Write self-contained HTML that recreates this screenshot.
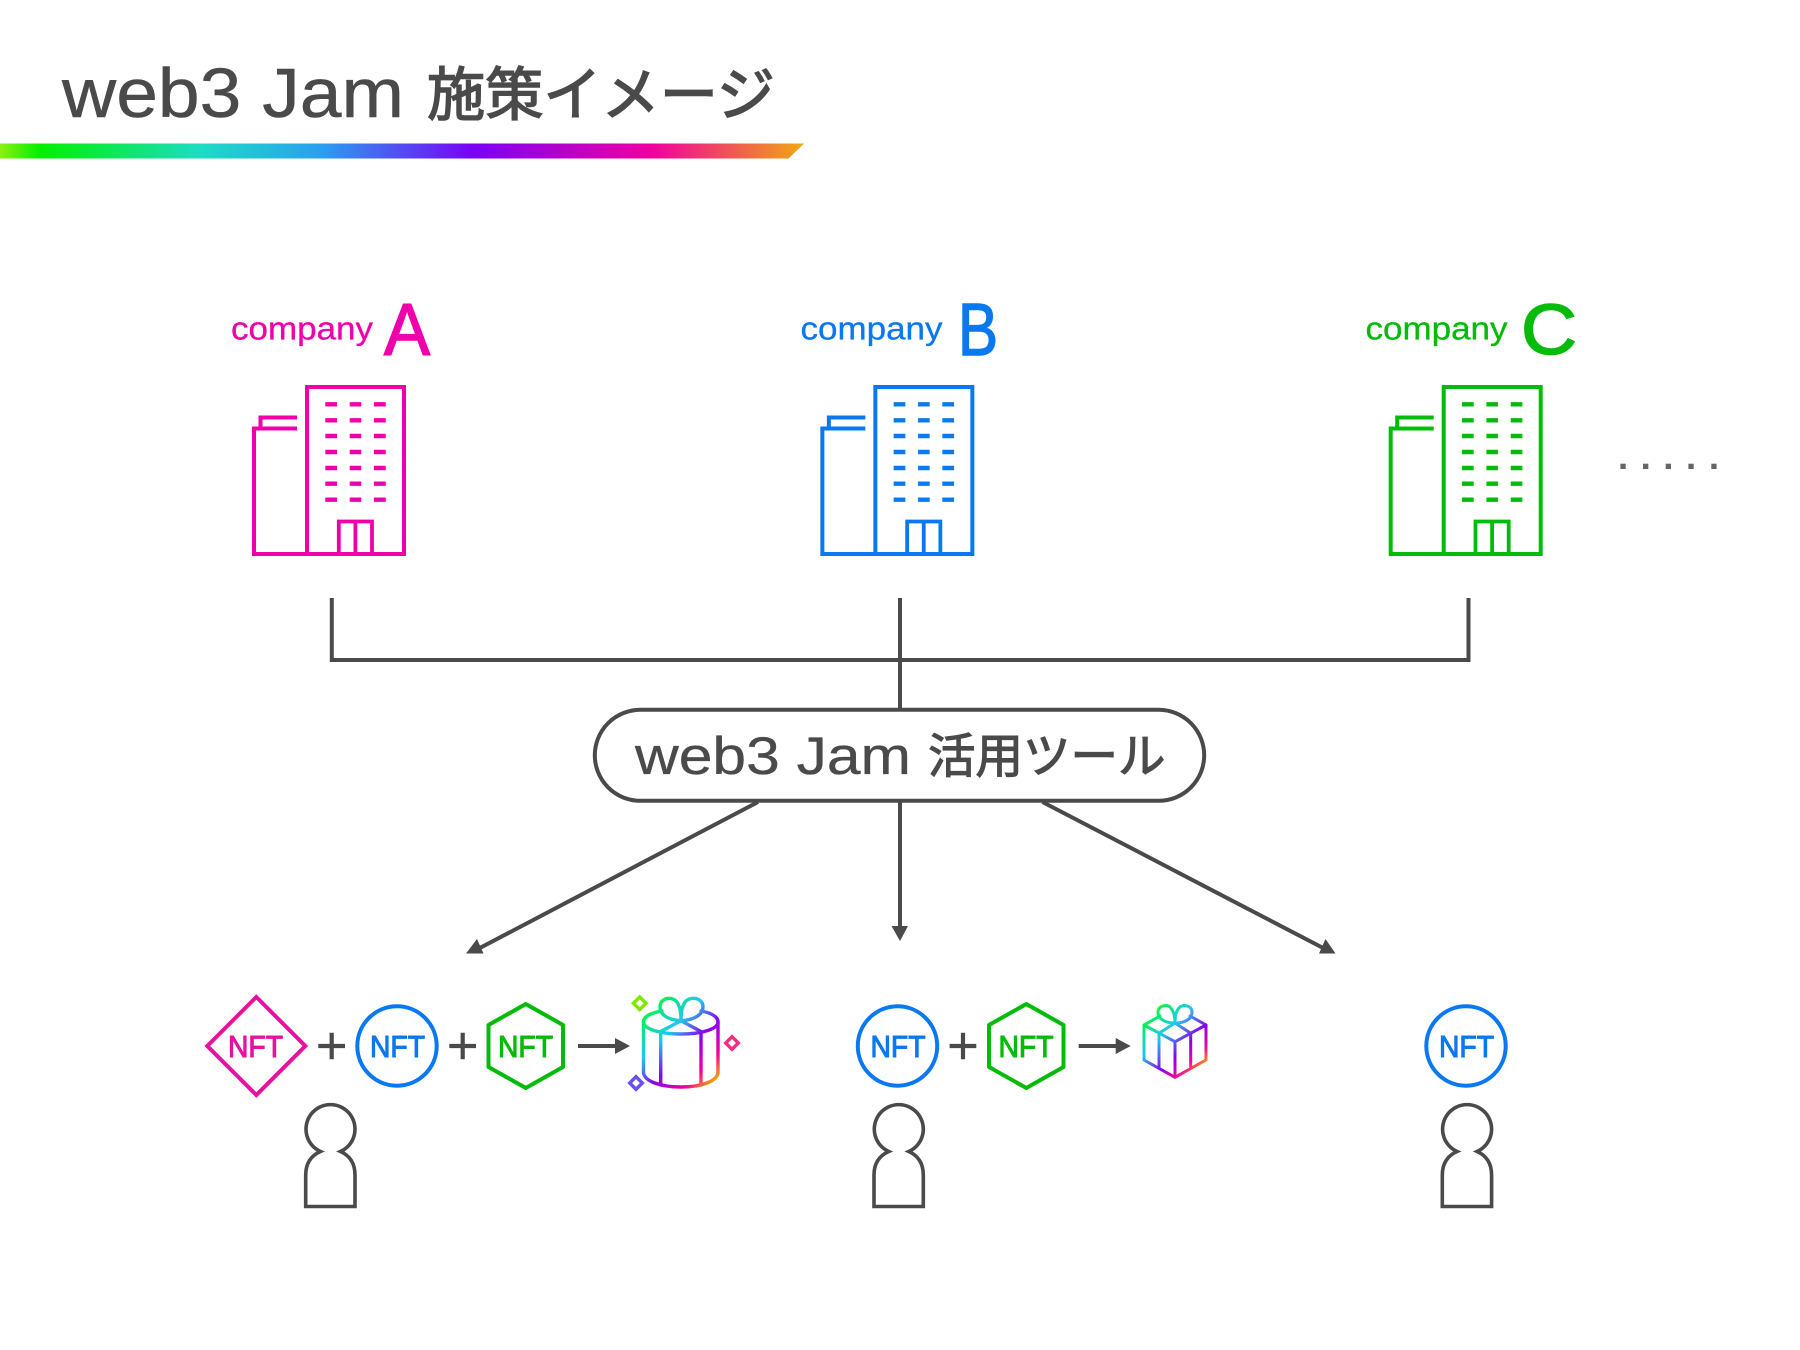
<!DOCTYPE html>
<html lang="ja">
<head>
<meta charset="utf-8">
<title>web3 Jam 施策イメージ</title>
<style>
html,body{margin:0;padding:0;background:#fff}
svg{display:block}
text{font-family:"Liberation Sans","Noto Sans CJK JP",sans-serif}
.dk{fill:none;stroke:#4a4a4a;stroke-width:4}
.nft{font-size:30.5px;stroke-width:1}
</style>
</head>
<body>
<svg width="1800" height="1350" viewBox="0 0 1800 1350" xmlns="http://www.w3.org/2000/svg">
<defs>
<linearGradient id="bar" x1="0" x2="1" y1="0" y2="0">
<stop offset="0" stop-color="#8cf010"/><stop offset=".05" stop-color="#00f000"/>
<stop offset=".25" stop-color="#1ddcc4"/><stop offset=".40" stop-color="#2a9ff0"/>
<stop offset=".59" stop-color="#7a00f5"/><stop offset=".81" stop-color="#f000a0"/>
<stop offset="1" stop-color="#f0a810"/>
</linearGradient>
<linearGradient id="g1" gradientUnits="userSpaceOnUse" x1="640" y1="1010" x2="712.5" y2="1082.5">
<stop offset="0" stop-color="#30f000"/><stop offset=".1" stop-color="#00f060"/>
<stop offset=".35" stop-color="#20c8f0"/><stop offset=".6" stop-color="#8a00f0"/>
<stop offset=".84" stop-color="#f000a0"/><stop offset="1" stop-color="#f8a000"/>
</linearGradient>
<linearGradient id="g2" gradientUnits="userSpaceOnUse" x1="1140" y1="1020" x2="1195" y2="1075">
<stop offset="0" stop-color="#60f000"/><stop offset=".1" stop-color="#00f060"/>
<stop offset=".35" stop-color="#20c8f0"/><stop offset=".65" stop-color="#8a00f0"/>
<stop offset=".84" stop-color="#f000a0"/><stop offset="1" stop-color="#f8a000"/>
</linearGradient>
<g id="bld" fill="none" stroke="currentColor" stroke-width="4">
  <rect x="307" y="387" width="97" height="167"/>
  <path d="M297,428.5H254V554H307"/>
  <path d="M297,417.5H260.5V428.5"/>
  <path d="M338.8,556V521.5H372V556M355.4,521.5V556" stroke-width="3.8"/>
  <path stroke-width="4.4" d="M325.3,404.3H337M349.7,404.3H361.3M374,404.3H385.7M325.3,420.3H337M349.7,420.3H361.3M374,420.3H385.7M325.3,436H337M349.7,436H361.3M374,436H385.7M325.3,452H337M349.7,452H361.3M374,452H385.7M325.3,468H337M349.7,468H361.3M374,468H385.7M325.3,483.7H337M349.7,483.7H361.3M374,483.7H385.7M325.3,499.7H337M349.7,499.7H361.3M374,499.7H385.7"/>
</g>
<path id="person" fill="none" stroke="#4a4a4a" stroke-width="3.6" d="M320.5,1151.5A24.5,24.5 0 1 1 340.5,1151.5Q355,1158 355,1175V1206.5H305.7V1175Q305.7,1158 320.5,1151.5Z"/>
<g id="circ">
  <circle cx="397" cy="1046" r="39.7" fill="none" stroke="#0a78f0" stroke-width="4"/>
  <text class="nft" x="370" y="1057" textLength="55" lengthAdjust="spacingAndGlyphs" fill="#0a78f0" stroke="#0a78f0">NFT</text>
</g>
<g id="hex">
  <path d="M525.8,1004L563,1025V1067L525.8,1088L488.5,1067V1025Z" fill="none" stroke="#05bb0a" stroke-width="4" stroke-linejoin="round"/>
  <text class="nft" x="498" y="1057" textLength="55" lengthAdjust="spacingAndGlyphs" fill="#05bb0a" stroke="#05bb0a">NFT</text>
</g>
<path id="plus" fill="none" stroke="#4a4a4a" stroke-width="4.2" d="M318.3,1046H345M331.7,1032.7V1059.3"/>
<g id="sarr">
  <path d="M578,1046H616" fill="none" stroke="#4a4a4a" stroke-width="4"/>
  <path d="M615,1038L630,1046L615,1054Z" fill="#4a4a4a"/>
</g>
</defs>

<rect width="1800" height="1350" fill="#fff"/>

<!-- Title -->
<text x="62" y="117" font-size="70" fill="#4a4a4a" stroke="#4a4a4a" stroke-width=".5" textLength="342" lengthAdjust="spacingAndGlyphs">web3 Jam</text>
<text x="427" y="115" font-size="58" fill="#4a4a4a" stroke="#4a4a4a" stroke-width="1.5" textLength="348" lengthAdjust="spacingAndGlyphs">施策イメージ</text>
<path d="M0,143.5H804L788.6,158.5H0Z" fill="url(#bar)"/>

<!-- Companies -->
<g fill="#ee00aa" color="#ee00aa">
  <text x="231" y="339.5" font-size="32" stroke="#ee00aa" stroke-width=".3" textLength="142" lengthAdjust="spacingAndGlyphs">company</text>
  <text x="384" y="355" font-size="73" stroke="#ee00aa" stroke-width="1.5" textLength="46" lengthAdjust="spacingAndGlyphs">A</text>
  <use href="#bld"/>
</g>
<g fill="#0a78f0" color="#0a78f0">
  <text x="800.5" y="339.5" font-size="32" stroke="#0a78f0" stroke-width=".3" textLength="142" lengthAdjust="spacingAndGlyphs">company</text>
  <text x="958" y="355" font-size="74" stroke="#0a78f0" stroke-width="1.5" textLength="40" lengthAdjust="spacingAndGlyphs">B</text>
  <use href="#bld" transform="translate(568.35 0)"/>
</g>
<g fill="#05bb0a" color="#05bb0a">
  <text x="1365.5" y="339.5" font-size="32" stroke="#05bb0a" stroke-width=".3" textLength="142" lengthAdjust="spacingAndGlyphs">company</text>
  <text x="1521" y="354" font-size="71" stroke="#05bb0a" stroke-width="1.5" textLength="56" lengthAdjust="spacingAndGlyphs">C</text>
  <use href="#bld" transform="translate(1136.7 0)"/>
</g>

<!-- Dots -->
<g fill="#666">
  <rect x="1620.4" y="463.7" width="5.3" height="5.3"/>
  <rect x="1643" y="463.7" width="5.3" height="5.3"/>
  <rect x="1665.7" y="463.7" width="5.3" height="5.3"/>
  <rect x="1688.4" y="463.7" width="5.3" height="5.3"/>
  <rect x="1711.3" y="463.7" width="5.3" height="5.3"/>
</g>

<!-- Connectors -->
<path class="dk" d="M331.8,598V660H1468.5V598M900,598V709"/>
<rect class="dk" x="594.8" y="709.8" width="609.4" height="91" rx="45.5" ry="45.5" style="fill:#fff"/>
<text x="635" y="774" font-size="52.5" fill="#4a4a4a" stroke="#4a4a4a" stroke-width=".35" textLength="276" lengthAdjust="spacingAndGlyphs">web3 Jam</text>
<text x="928" y="773" font-size="47.5" fill="#4a4a4a" stroke="#4a4a4a" stroke-width="1.2" textLength="237.5" lengthAdjust="spacingAndGlyphs">活用ツール</text>

<path class="dk" d="M758,802L476,950"/>
<path d="M477,939L466,953.5L483.5,953.5Z" fill="#4a4a4a"/>
<path class="dk" d="M900,802V928"/>
<path d="M891.5,926H908L900,941Z" fill="#4a4a4a"/>
<path class="dk" d="M1042.5,802L1327,950"/>
<path d="M1325.5,939L1319,953.5H1335.5Z" fill="#4a4a4a"/>

<!-- Row 1 -->
<path d="M256.3,997L305.3,1046L256.3,1095L207.3,1046Z" fill="none" stroke="#e810a0" stroke-width="4"/>
<text class="nft" x="228" y="1057" textLength="55" lengthAdjust="spacingAndGlyphs" fill="#e810a0" stroke="#e810a0">NFT</text>
<use href="#plus"/>
<use href="#circ"/>
<use href="#plus" transform="translate(131 0)"/>
<use href="#hex"/>
<use href="#sarr"/>

<!-- Cake gift -->
<g fill="none" stroke="url(#g1)" stroke-width="3.4" stroke-linejoin="round" stroke-linecap="round">
  <path d="M662,1011C650,1013 643.5,1017 643.5,1022V1072C643.5,1081 660,1087 681,1087C702,1087 718,1081 718,1072V1022C718,1017 712,1013 701,1011"/>
  <path d="M643.5,1022C643.5,1029 660,1034 681,1034C702,1034 718,1029 718,1022"/>
  <path d="M660.7,1032V1084M701,1032V1084"/>
  <path d="M660.7,1031.5L681,1020.7L701,1031.5"/>
  <path d="M681,1020.7C667,1020 660,1014 660,1007C660,998 671,996 676,1001C680,1005 681,1012 681,1020.7C681,1012 682,1005 686,1001C692,996 703,998 703,1007C703,1014 695,1020 681,1020.7Z"/>
</g>
<path d="M639.7,997L646,1003.3L639.7,1009.6L633.4,1003.3Z" fill="none" stroke="#7fe800" stroke-width="3.4"/>
<path d="M732,1036.7L738.3,1043L732,1049.3L725.7,1043Z" fill="none" stroke="#f03080" stroke-width="3.4"/>
<path d="M636,1076.7L642.3,1083L636,1089.3L629.7,1083Z" fill="none" stroke="#6a50f0" stroke-width="3.4"/>

<!-- Row 2 -->
<use href="#circ" transform="translate(500.5 0)"/>
<use href="#plus" transform="translate(631.3 0)"/>
<use href="#hex" transform="translate(500.5 0)"/>
<use href="#sarr" transform="translate(500.7 0)"/>

<!-- Box gift -->
<g fill="none" stroke="url(#g2)" stroke-width="3" stroke-linejoin="round" stroke-linecap="round">
  <path d="M1160,1016L1144,1025V1060L1175,1077.3L1206,1060V1025L1190,1016"/>
  <path d="M1144,1025L1175,1041.7L1206,1025"/>
  <path d="M1175,1041.7V1077.3M1159,1033.3V1067M1190.7,1033.3V1067"/>
  <path d="M1159,1033.3L1175,1023L1190.7,1033.3"/>
  <path d="M1175,1023C1165,1023 1158,1019 1158,1012C1158,1006 1166,1004 1170,1007C1173,1010 1175,1016 1175,1023C1175,1016 1176,1010 1180,1007C1184,1004 1192,1006 1192,1012C1192,1019 1185,1023 1175,1023Z"/>
</g>

<!-- Row 3 -->
<use href="#circ" transform="translate(1069 0)"/>

<!-- People -->
<use href="#person"/>
<use href="#person" transform="translate(568.3 0)"/>
<use href="#person" transform="translate(1136.6 0)"/>
</svg>
</body>
</html>
